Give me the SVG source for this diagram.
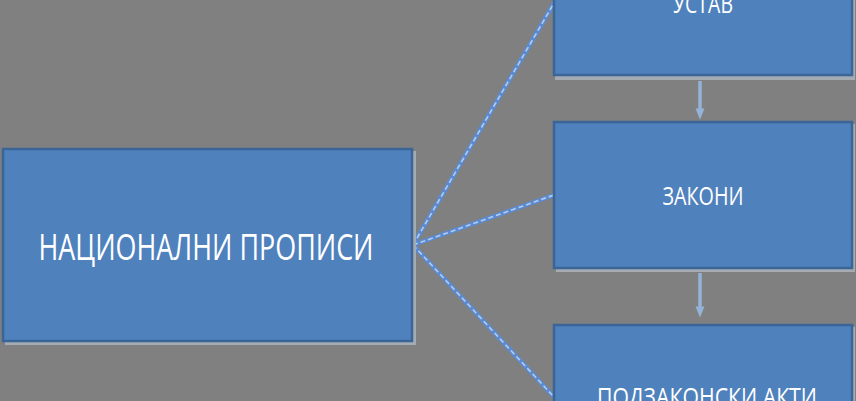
<svg xmlns="http://www.w3.org/2000/svg" width="856" height="401" viewBox="0 0 856 401">
<defs>
<style>
.box{fill:#4F81BD;stroke:#3B6597;stroke-width:2.5}
.shadow{fill:#A5ABB3}
.lbl{font-family:"Open Sans","Noto Sans","Liberation Sans",sans-serif;fill:#FFFFFF;text-anchor:middle}
.conn{fill:none;stroke:#5A8BD2;stroke-width:4.5}
.connd{fill:none;stroke:#B4CCEC;stroke-width:1.6;stroke-dasharray:5 3}
.arr{fill:none;stroke:#95B3D7;stroke-width:3.5}
</style>
<marker id="ah" viewBox="0 0 10 10" refX="5" refY="5" markerWidth="3.2" markerHeight="3.2" orient="auto" markerUnits="strokeWidth">
<path d="M0,1 L10,5 L0,9 Z" fill="#95B3D7"/>
</marker>
</defs>
<rect x="0" y="0" width="856" height="401" fill="#808080"/>
<g id="connectors">
<line class="conn" x1="413" y1="245" x2="554" y2="3"/>
<line class="connd" x1="413" y1="245" x2="554" y2="3"/>
<line class="conn" x1="413" y1="245" x2="554" y2="195"/>
<line class="connd" x1="413" y1="245" x2="554" y2="195"/>
<line class="conn" x1="413" y1="245" x2="554" y2="397"/>
<line class="connd" x1="413" y1="245" x2="554" y2="397"/>
<line class="arr" x1="700" y1="81" x2="700" y2="114" marker-end="url(#ah)"/>
<line class="arr" x1="700" y1="273" x2="700" y2="312" marker-end="url(#ah)"/>
</g>
<g id="node-nacionalni">
<rect class="shadow" x="5" y="151" width="411" height="194"/>
<rect class="box" x="3" y="149" width="409" height="192"/>
<text class="lbl" x="206" y="260" font-size="37" textLength="335" lengthAdjust="spacingAndGlyphs">НАЦИОНАЛНИ ПРОПИСИ</text>
</g>
<g id="node-ustav">
<rect class="shadow" x="555" y="-5" width="300" height="85"/>
<rect class="box" x="554" y="-7" width="298" height="82"/>
<text class="lbl" x="703" y="13" font-size="25" textLength="60" lengthAdjust="spacingAndGlyphs">УСТАВ</text>
</g>
<g id="node-zakoni">
<rect class="shadow" x="556" y="124" width="299" height="148"/>
<rect class="box" x="554" y="122" width="298" height="146"/>
<text class="lbl" x="703" y="205" font-size="25" textLength="81" lengthAdjust="spacingAndGlyphs">ЗАКОНИ</text>
</g>
<g id="node-podzakonski">
<rect class="shadow" x="556" y="327" width="299" height="90"/>
<rect class="box" x="554" y="325" width="298" height="90"/>
<text class="lbl" x="707" y="406" font-size="25" textLength="220" lengthAdjust="spacingAndGlyphs">ПОДЗАКОНСКИ АКТИ</text>
</g>
</svg>
